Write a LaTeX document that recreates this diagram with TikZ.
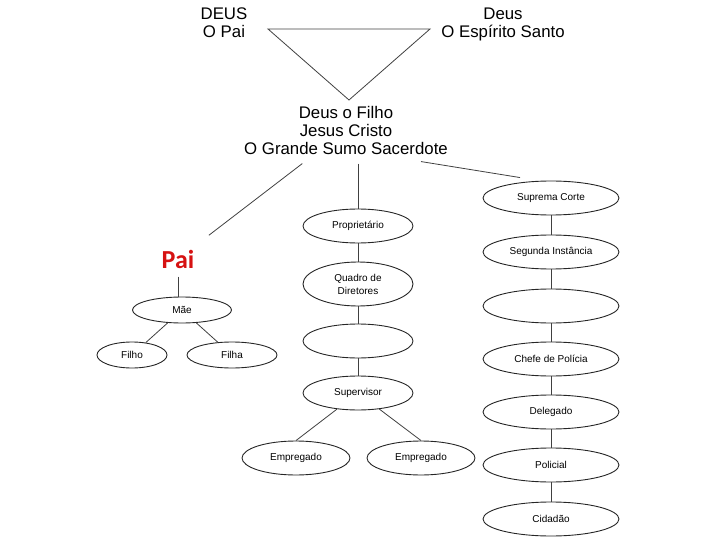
\documentclass[tikz,border=0pt]{standalone}
\usepackage{fontspec}
\setmainfont{Liberation Sans}
\newfontfamily\calibri{Carlito}
\usepackage{tikz}
\usetikzlibrary{shapes.geometric, positioning}
\definecolor{paivermelho}{RGB}{214,18,18}

\begin{document}
\begin{tikzpicture}[x=1pt,y=-1pt,line width=0.8pt,
    every edge/.style={draw,black!75},
    titulo/.style={align=center,font=\fontsize{16.8}{18}\selectfont},
    oval/.style={ellipse,draw=black!85,line width=0.9pt,inner sep=0pt,align=center,
                 font=\fontsize{10}{13}\selectfont},
    familia/.style={oval,minimum height=26pt},
    empresa/.style={oval,minimum width=110pt,minimum height=34pt},
    justica/.style={oval,minimum width=136pt,minimum height=34pt}]
    \useasboundingbox (0,0) rectangle (720,540);

    % Trindade
    \coordinate (t1) at (268,29);
    \coordinate (t2) at (430,29);
    \coordinate (t3) at (349,100);
    \draw[black!75] (t1) -- (t2) -- (t3) -- cycle;
    \node[titulo] (pai0) at (224,23) {DEUS\\O Pai};
    \node[titulo] (esp) at (503,24.7) {Deus\\O Espírito Santo};
    \node[titulo,inner sep=9pt] (jesus) at (346,130) {Deus o Filho\\Jesus Cristo\\O Grande Sumo Sacerdote};

    % familia
    \node[text=paivermelho,font=\calibri\bfseries\fontsize{26}{28}\selectfont,inner sep=8pt,anchor=base] (pai) at (178,268) {Pai};
    \node[familia,minimum width=99pt] (mae) at (182,310) {Mãe};
    \node[familia,minimum width=70pt] (filho) at (132,355) {Filho};
    \node[familia,minimum width=90pt] (filha) at (232,355) {Filha};

    % empresa
    \node[empresa] (prop) at (358,226) {Proprietário};
    \node[empresa,minimum height=44pt] (quadro) at (358,284) {Quadro de\\Diretores};
    \node[empresa] (vazio1) at (358,341) {};
    \node[empresa] (superv) at (358,393) {Supervisor};
    \node[empresa,minimum width=108pt] (emp1) at (296,458) {Empregado};
    \node[empresa,minimum width=108pt] (emp2) at (421,458) {Empregado};

    % justica
    \node[justica] (corte) at (551,198) {Suprema Corte};
    \node[justica] (segunda) at (551,252) {Segunda Instância};
    \node[justica] (vazio2) at (551,306) {};
    \node[justica] (chefe) at (551,359) {Chefe de Polícia};
    \node[justica] (deleg) at (551,412) {Delegado};
    \node[justica] (policial) at (551,465) {Policial};
    \node[justica] (cidadao) at (551,519) {Cidadão};

    \path (jesus) edge[shorten >=10pt] (pai)
          (prop |- jesus.south) edge (prop)
          ([xshift=75pt,yshift=2pt]jesus.south) edge ([xshift=-31pt,yshift=3pt]corte.north)
          (pai) edge (pai |- mae.north)
          (mae) edge (filho)
          (mae) edge (filha)
          (prop) edge (quadro)
          (quadro) edge (vazio1)
          (vazio1) edge (superv)
          (superv) edge (emp1.north)
          (superv) edge (emp2.north)
          (corte) edge (segunda)
          (segunda) edge (vazio2)
          (vazio2) edge (chefe)
          (chefe) edge (deleg)
          (deleg) edge (policial)
          (policial) edge (cidadao);
\end{tikzpicture}
\end{document}
